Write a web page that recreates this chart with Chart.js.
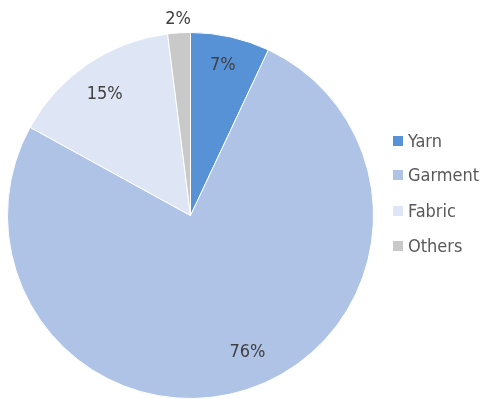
<!DOCTYPE html>
<html>
<head>
<meta charset="utf-8">
<script src="https://cdn.jsdelivr.net/npm/chart.js@4/dist/chart.umd.min.js"></script>
<style>
  html, body { margin: 0; padding: 0; background: #fff; }
  #wrap { position: relative; width: 481px; height: 399px; }
  canvas { position: absolute; left: 0; top: 0; }
  #legend { position: absolute; left: 393px; top: 0; font-family: "DejaVu Sans Condensed", "DejaVu Sans", sans-serif; font-size: 18px; color: #595959; }
  .item { position: absolute; left: 0; height: 20px; line-height: 20px; white-space: nowrap; }
  .box { position: absolute; left: 0; top: 5px; width: 10px; height: 10px; }
  .txt { position: absolute; left: 15px; top: 0; }
</style>
</head>
<body>
<div id="wrap">
  <canvas id="c" width="481" height="399"></canvas>
  <div id="legend"></div>
</div>
<script>
const categories = ["Yarn", "Garment", "Fabric", "Others"];
const shares = [7, 76, 15, 2];
const valueLabels = ["7%", "76%", "15%", "2%"];
const colors = ["#5692D5", "#AEC3E6", "#DEE6F5", "#C9C9C9"];
// label placement: fraction of radius, and angle shift (degrees) from slice middle
const labelRadiusFactor = [0.84, 0.81, 0.81, 1.075];
const labelAngleShift = [-0.5, -4.6, -1.2, 0];

const legendTops = [131, 165, 201, 236];
const legend = document.getElementById('legend');
categories.forEach((c, i) => {
  const it = document.createElement('div');
  it.className = 'item';
  it.style.top = legendTops[i] + 'px';
  it.innerHTML = '<span class="box" style="background:' + colors[i] + '"></span><span class="txt">' + c + '</span>';
  legend.appendChild(it);
});

const labelPlugin = {
  id: 'sliceLabels',
  afterDatasetsDraw(chart) {
    const ctx = chart.ctx;
    const meta = chart.getDatasetMeta(0);
    ctx.save();
    ctx.font = '18px "DejaVu Sans Condensed", "DejaVu Sans", sans-serif';
    ctx.fillStyle = '#404040';
    ctx.textAlign = 'center';
    ctx.textBaseline = 'middle';
    meta.data.forEach((arc, i) => {
      const p = arc.getProps(['x', 'y', 'startAngle', 'endAngle', 'outerRadius'], true);
      const mid = (p.startAngle + p.endAngle) / 2 + labelAngleShift[i] * Math.PI / 180;
      const r = p.outerRadius * labelRadiusFactor[i];
      ctx.fillText(valueLabels[i], p.x + Math.cos(mid) * r, p.y + Math.sin(mid) * r);
    });
    ctx.restore();
  }
};

new Chart(document.getElementById('c'), {
  type: 'pie',
  data: {
    labels: categories,
    datasets: [{
      data: shares,
      backgroundColor: colors,
      borderColor: '#ffffff',
      borderWidth: 1
    }]
  },
  options: {
    responsive: false,
    animation: false,
    layout: { padding: { left: 7, right: 107, top: 32, bottom: 0 } },
    plugins: {
      legend: { display: false },
      tooltip: { enabled: false }
    }
  },
  plugins: [labelPlugin]
});
</script>
</body>
</html>
